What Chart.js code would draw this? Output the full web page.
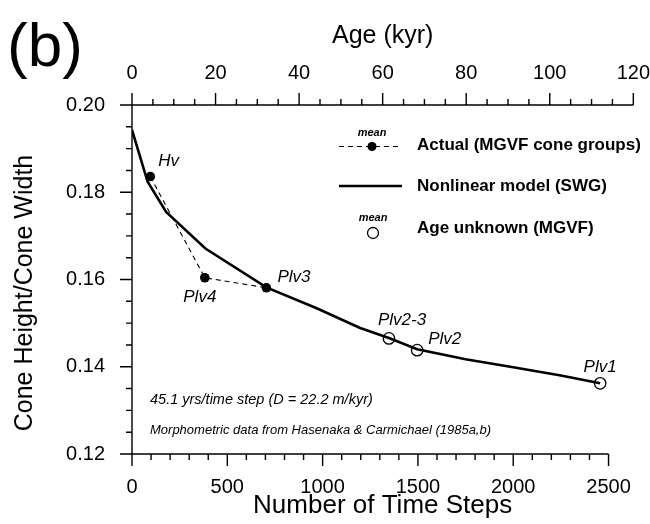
<!DOCTYPE html>
<html lang="en">
<head>
<meta charset="UTF-8">
<title>Cone Height/Cone Width vs Number of Time Steps</title>
<script src="https://cdn.jsdelivr.net/npm/chart.js"></script>
<style>
    body { margin: 0; background: #fff; }
    canvas { display: block; }
</style>
</head>
<body>
<canvas id="coneChart" width="650" height="524"></canvas>
<script>
    // Nonlinear model (SWG)
    const modelSteps = [0, 82, 179, 385, 705, 969, 1197, 1348, 1496, 1750, 2000, 2250, 2456];
    const modelRatio = [0.1943, 0.1824, 0.1755, 0.1671, 0.1582, 0.1534, 0.1489, 0.1466, 0.1440, 0.1417, 0.1399, 0.1380, 0.1362];

    // Actual (MGVF cone groups), means
    const actualNames = ['Hv', 'Plv4', 'Plv3'];
    const actualSteps = [96, 382, 705];
    const actualRatio = [0.1836, 0.1604, 0.1581];

    // Age unknown (MGVF), means
    const unknownNames = ['Plv2-3', 'Plv2', 'Plv1'];
    const unknownSteps = [1348, 1496, 2456];
    const unknownRatio = [0.1465, 0.1438, 0.1362];

    // labelled ticks
    const stepTicks = [0, 500, 1000, 1500, 2000, 2500];
    const ageTicks = [0, 20, 40, 60, 80, 100, 120];
    const ratioTicks = [0.12, 0.14, 0.16, 0.18, 0.20];

    const FONT = "'Liberation Sans', Arial, sans-serif";
    Chart.defaults.font.family = FONT;
    Chart.defaults.color = '#000';

    const toPoints = (xs, ys) => xs.map((x, i) => ({ x: x, y: ys[i] }));
    const isLabelled = (list, v) => list.some(t => Math.abs(t - v) < 1e-9);

    // where each point name sits relative to its marker
    const labelPlacement = {
        'Hv': [8, -15, 'left'],
        'Plv4': [-5, 20, 'center'],
        'Plv3': [11, -11, 'left'],
        'Plv2-3': [-11, -18, 'left'],
        'Plv2': [11, -11, 'left'],
        'Plv1': [0, -16, 'center']
    };

    // axis lines with long major / short minor ticks, all pointing outward
    const framePlugin = {
        id: 'frame',
        afterDraw(chart) {
            const ctx = chart.ctx;
            const { x, x2, y } = chart.scales;
            const area = chart.chartArea;
            ctx.save();
            ctx.strokeStyle = '#000';
            ctx.lineWidth = 1.4;
            ctx.beginPath();
            ctx.moveTo(area.left, area.top);
            ctx.lineTo(area.left, area.bottom);
            ctx.moveTo(x.getPixelForValue(0), area.bottom);
            ctx.lineTo(x.getPixelForValue(2500), area.bottom);
            ctx.moveTo(x2.getPixelForValue(0), area.top);
            ctx.lineTo(x2.getPixelForValue(120), area.top);
            y.ticks.forEach(t => {
                const p = y.getPixelForValue(t.value);
                const len = isLabelled(ratioTicks, t.value) ? 12 : 6;
                ctx.moveTo(area.left, p);
                ctx.lineTo(area.left - len, p);
            });
            x.ticks.forEach(t => {
                const p = x.getPixelForValue(t.value);
                const len = isLabelled(stepTicks, t.value) ? 12 : 6;
                ctx.moveTo(p, area.bottom);
                ctx.lineTo(p, area.bottom + len);
            });
            x2.ticks.forEach(t => {
                const p = x2.getPixelForValue(t.value);
                const len = isLabelled(ageTicks, t.value) ? 12 : 6;
                ctx.moveTo(p, area.top);
                ctx.lineTo(p, area.top - len);
            });
            ctx.stroke();

            // y axis title
            ctx.fillStyle = '#000';
            ctx.font = '25px ' + FONT;
            ctx.textAlign = 'center';
            ctx.textBaseline = 'middle';
            ctx.translate(25, 293);
            ctx.rotate(-Math.PI / 2);
            ctx.fillText('Cone Height/Cone Width', 0, 0);
            ctx.restore();
        }
    };

    const pointLabelPlugin = {
        id: 'pointLabels',
        afterDatasetsDraw(chart) {
            const ctx = chart.ctx;
            ctx.save();
            ctx.fillStyle = '#000';
            ctx.font = 'italic 17px ' + FONT;
            ctx.textBaseline = 'middle';
            chart.data.datasets.forEach((ds, i) => {
                if (!ds.names) return;
                chart.getDatasetMeta(i).data.forEach((pt, j) => {
                    const [dx, dy, align] = labelPlacement[ds.names[j]];
                    ctx.textAlign = align;
                    ctx.fillText(ds.names[j], pt.x + dx, pt.y + dy);
                });
            });
            ctx.restore();
        }
    };

    // panel letter, legend and notes
    const notesPlugin = {
        id: 'notes',
        afterDraw(chart) {
            const ctx = chart.ctx;
            ctx.save();
            ctx.fillStyle = '#000';
            ctx.strokeStyle = '#000';

            ctx.font = '62px ' + FONT;
            ctx.textAlign = 'left';
            ctx.textBaseline = 'alphabetic';
            ctx.fillText('(b)', 7, 66);

            // legend
            ctx.font = 'bold italic 11px ' + FONT;
            ctx.textAlign = 'center';
            ctx.textBaseline = 'middle';
            ctx.fillText('mean', 372, 133);
            ctx.fillText('mean', 373, 218);

            ctx.lineWidth = 1.1;
            ctx.setLineDash([5, 4]);
            ctx.beginPath();
            ctx.moveTo(339, 146.5);
            ctx.lineTo(400, 146.5);
            ctx.stroke();
            ctx.setLineDash([]);
            ctx.beginPath();
            ctx.arc(372, 146.5, 4.5, 0, Math.PI * 2);
            ctx.fill();

            ctx.lineWidth = 2.6;
            ctx.beginPath();
            ctx.moveTo(339, 186);
            ctx.lineTo(402, 186);
            ctx.stroke();

            ctx.lineWidth = 1.3;
            ctx.beginPath();
            ctx.arc(373, 233, 5.5, 0, Math.PI * 2);
            ctx.stroke();

            ctx.font = 'bold 17px ' + FONT;
            ctx.textAlign = 'left';
            ctx.fillText('Actual (MGVF cone groups)', 417, 145);
            ctx.fillText('Nonlinear model (SWG)', 417, 186);
            ctx.fillText('Age unknown (MGVF)', 417, 228);

            // notes
            ctx.font = 'italic 14.5px ' + FONT;
            ctx.fillText('45.1 yrs/time step (D = 22.2 m/kyr)', 150, 400);
            ctx.font = 'italic 13px ' + FONT;
            ctx.fillText('Morphometric data from Hasenaka & Carmichael (1985a,b)', 150, 430);
            ctx.restore();
        }
    };

    new Chart(document.getElementById('coneChart'), {
        type: 'scatter',
        data: {
            datasets: [{
                label: 'Age unknown (MGVF)',
                names: unknownNames,
                data: toPoints(unknownSteps, unknownRatio),
                showLine: false,
                pointRadius: 5.7,
                pointBackgroundColor: 'rgba(0,0,0,0)',
                pointBorderColor: '#000',
                pointBorderWidth: 1.3
            }, {
                label: 'Actual (MGVF cone groups)',
                names: actualNames,
                data: toPoints(actualSteps, actualRatio),
                showLine: true,
                borderColor: '#000',
                borderWidth: 1.1,
                borderDash: [5, 4],
                pointRadius: 4.8,
                pointBackgroundColor: '#000',
                pointBorderWidth: 0
            }, {
                label: 'Nonlinear model (SWG)',
                data: toPoints(modelSteps, modelRatio),
                showLine: true,
                borderColor: '#000',
                borderWidth: 2.6,
                pointRadius: 0,
                tension: 0
            }]
        },
        options: {
            responsive: false,
            animation: false,
            layout: { padding: 0 },
            plugins: {
                legend: { display: false },
                tooltip: { enabled: false }
            },
            scales: {
                x: {
                    type: 'linear',
                    position: 'bottom',
                    min: 0,
                    max: 2630,
                    afterFit: s => { s.height = 70; },
                    afterBuildTicks: s => { s.ticks = s.ticks.filter(t => t.value <= 2500); },
                    // ticks are drawn by the frame plugin; tickLength only spaces the labels
                    grid: { display: false, drawTicks: true, tickLength: 21 },
                    border: { display: false },
                    ticks: {
                        stepSize: 100,
                        autoSkip: false,
                        maxRotation: 0,
                        padding: 0,
                        font: { size: 20 },
                        callback: v => isLabelled(stepTicks, v) ? String(v) : ''
                    },
                    title: {
                        display: true,
                        text: 'Number of Time Steps',
                        font: { size: 26 },
                        padding: { top: 0, bottom: 3 }
                    }
                },
                x2: {
                    type: 'linear',
                    position: 'top',
                    min: 0,
                    max: 120,
                    afterFit: s => { s.height = 105; },
                    grid: { display: false, drawTicks: true, tickLength: 20 },
                    border: { display: false },
                    ticks: {
                        stepSize: 5,
                        autoSkip: false,
                        maxRotation: 0,
                        padding: 0,
                        font: { size: 20 },
                        callback: v => isLabelled(ageTicks, v) ? String(v) : ''
                    },
                    title: {
                        display: true,
                        text: 'Age (kyr)',
                        font: { size: 25 },
                        padding: { top: 21, bottom: 0 }
                    }
                },
                y: {
                    min: 0.12,
                    max: 0.20,
                    afterFit: s => { s.width = 132; },
                    grid: { display: false, drawTicks: false },
                    border: { display: false },
                    ticks: {
                        stepSize: 0.005,
                        autoSkip: false,
                        padding: 27,
                        font: { size: 20 },
                        callback: v => isLabelled(ratioTicks, v) ? v.toFixed(2) : ''
                    }
                }
            }
        },
        plugins: [framePlugin, pointLabelPlugin, notesPlugin]
    });
</script>
</body>
</html>
